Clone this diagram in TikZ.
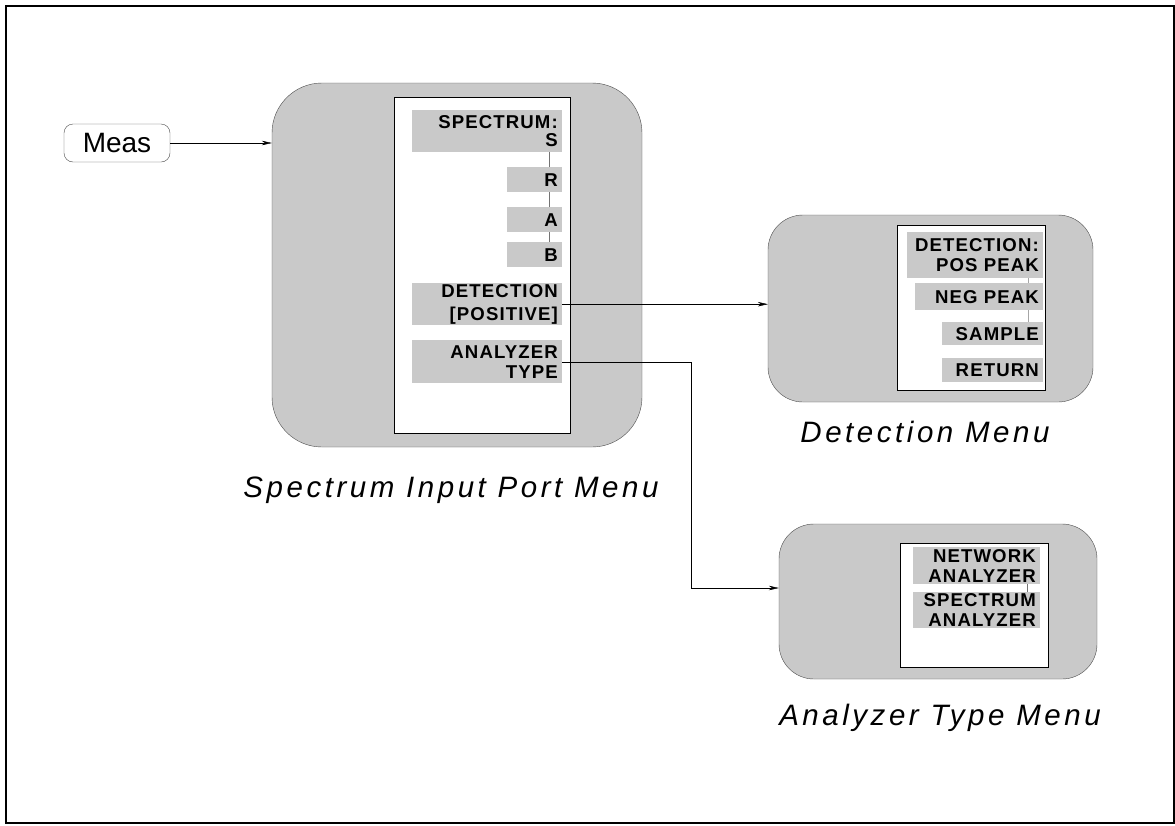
\documentclass[tikz,border=0pt]{standalone}
\usepackage{fontspec}
\setmainfont{Liberation Sans}
\newfontfamily\keyfont[LetterSpace=6]{Liberation Sans}
\newfontfamily\capfont[LetterSpace=12]{Liberation Sans}
\usetikzlibrary{arrows.meta, positioning}
\definecolor{panelgray}{gray}{0.79}

\tikzset{
  panel/.style={draw=black!70, fill=panelgray, rounded corners=#1},
  window/.style={draw=black, fill=white},
  softkey/.style={fill=panelgray, anchor=north east, inner xsep=4pt, inner ysep=0pt,
    text width=#1, align=right, font=\keyfont\bfseries\fontsize{18.6}{20}\selectfont},
  hardkey/.style={draw=black!70, fill=white, rounded corners=9pt, minimum width=106pt,
    minimum height=38pt, font=\fontsize{28}{30}\selectfont},
  link/.style={draw=black!55, thin},
  flow/.style={-{Stealth[length=10pt,width=4.5pt]}, thin},
  caption/.style={font=\capfont\itshape\fontsize{29.5}{32}\selectfont}
}

\begin{document}
\begin{tikzpicture}[x=1pt, y=-1pt]
          \useasboundingbox (0,0) rectangle (1175,825);
          \draw[line width=1.6pt] (6,6) rectangle (1174,823);
          % Hard key
          \node[hardkey] (meas) at (117,143) {Meas};
          % Spectrum input port menu
          \node[panel=50pt, minimum width=370pt, minimum height=364pt] (specBox) at (457,265) {};
          \node[window, minimum width=176pt, minimum height=336pt] (specWin) at (482,265) {};
          \node[softkey=142pt, minimum height=42pt] (spSpec) at (562,110) {SPECTRUM:\\[-2pt]S};
          \node[softkey=47pt, minimum height=25pt] (spR) at (562,167) {R};
          \node[softkey=47pt, minimum height=25pt] (spA) at (562,207) {A};
          \node[softkey=47pt, minimum height=25pt] (spB) at (562,242) {B};
          \node[softkey=142pt, minimum height=42pt] (spDet) at (562,283) {DETECTION\\[3pt][POSITIVE]};
          \node[softkey=142pt, minimum height=43pt] (spAna) at (562,340) {ANALYZER\\TYPE};
          \draw[link] ([xshift=-13pt]spSpec.south east) -- ([xshift=-13pt]spR.north east);
          \draw[link] ([xshift=-13pt]spR.south east) -- ([xshift=-13pt]spA.north east);
          \draw[link] ([xshift=-13pt]spA.south east) -- ([xshift=-13pt]spB.north east);
          \node[caption] (specCap) at (451,490) {Spectrum Input Port Menu};
          % Detection menu
          \node[panel=35pt, minimum width=325pt, minimum height=187pt] (detBox) at (930.5,308.5) {};
          \node[window, minimum width=148pt, minimum height=165pt] (detWin) at (971,307.5) {};
          \node[softkey=128pt, minimum height=46pt] (dtPos) at (1043,232) {DETECTION:\\POS PEAK};
          \node[softkey=120pt, minimum height=27pt] (dtNeg) at (1043,283) {NEG PEAK};
          \node[softkey=93pt, minimum height=23pt] (dtSmp) at (1043,322) {SAMPLE};
          \node[softkey=93pt, minimum height=24pt] (dtRet) at (1043,358) {RETURN};
          \draw[link, draw=black!35] ([xshift=-15pt]dtPos.south east) -- ([xshift=-15pt]dtNeg.north east);
          \draw[link, draw=black!35] ([xshift=-15pt]dtNeg.south east) -- ([xshift=-15pt]dtSmp.north east);
          \node[caption] (detCap) at (925,432) {Detection Menu};
          % Analyzer type menu
          \node[panel=35pt, minimum width=318pt, minimum height=155pt] (anaBox) at (938,601.5) {};
          \node[window, minimum width=148pt, minimum height=124pt] (anaWin) at (974,605) {};
          \node[softkey=119pt, minimum height=37pt] (anNet) at (1040,547) {NETWORK\\ANALYZER};
          \node[softkey=119pt, minimum height=36pt] (anSpc) at (1040,592) {SPECTRUM\\ANALYZER};
          \draw[link] ([xshift=-13pt]anNet.south east) -- ([xshift=-13pt]anSpc.north east);
          \node[caption] (anaCap) at (940,718) {Analyzer Type Menu};
          % Connections
          \draw[flow] (meas) -- (meas -| specBox.west);
          \draw[flow] (spDet.east) -- (spDet.east -| detBox.west);
          \draw[flow] (spAna.east) -- ++(129,0) |- ([yshift=13.5pt]anaBox.west);
        \end{tikzpicture}
\end{document}
